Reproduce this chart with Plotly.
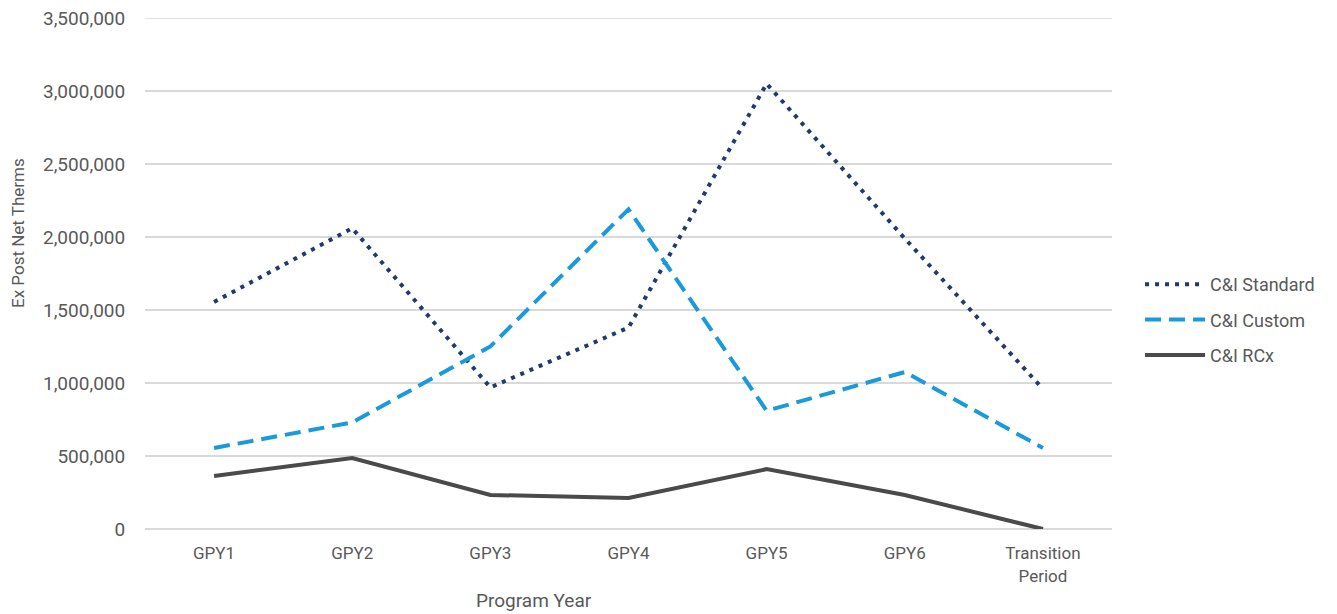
import plotly.graph_objects as go

categories = ["GPY1", "GPY2", "GPY3", "GPY4", "GPY5", "GPY6", "Transition<br>Period"]
standard = [1555000, 2060000, 970000, 1380000, 3050000, 1990000, 960000]
custom = [555000, 730000, 1250000, 2190000, 810000, 1075000, 555000]
rcx = [363000, 486000, 233000, 212000, 410000, 233000, 0]
tickvals = [0, 500000, 1000000, 1500000, 2000000, 2500000, 3000000, 3500000]
ticktext = ["0", "500,000", "1,000,000", "1,500,000", "2,000,000", "2,500,000", "3,000,000", "3,500,000"]

FONT = "Roboto, Open Sans, sans-serif"
GREY = "#595959"
GRID = "#D9D9D9"

fig = go.Figure()
fig.add_trace(go.Scatter(x=categories, y=standard, name="C&I Standard", mode="lines",
                         legendgroup="a",
                         line=dict(color="#1F3A6E", width=4, dash="4px,6px")))
fig.add_trace(go.Scatter(x=categories, y=custom, name="C&I Custom", mode="lines",
                         legendgroup="b",
                         line=dict(color="#1A9ADB", width=4, dash="16px,8px")))
fig.add_trace(go.Scatter(x=categories, y=rcx, name="C&I RCx", mode="lines",
                         legendgroup="c",
                         line=dict(color="#4A4A4A", width=4)))

fig.update_layout(
    width=1337, height=614,
    margin=dict(l=137, r=233, t=10, b=93),
    plot_bgcolor="white", paper_bgcolor="white",
    font=dict(family=FONT, size=17, color=GREY),
    legend=dict(x=1.029, y=0.409, xanchor="left", yanchor="middle",
                font=dict(size=18, color=GREY), tracegroupgap=9, itemwidth=60),
    xaxis=dict(range=[-0.5, 6.5], automargin=False,
               showgrid=False, showline=False, ticks="outside", ticklen=9,
               tickcolor="rgba(0,0,0,0)", tickfont=dict(size=17)),
    yaxis=dict(range=[0, 3500000], tickvals=tickvals, ticktext=ticktext, automargin=False,
               ticklabeloverflow="allow",
               showgrid=True, gridcolor=GRID, gridwidth=1.5, zeroline=True,
               zerolinecolor=GRID, zerolinewidth=1.5, tickfont=dict(size=19),
               ticklen=15, tickcolor="rgba(0,0,0,0)", ticks="outside"),
    shapes=[dict(type="line", xref="paper", x0=0, x1=1, yref="y",
                 y0=tickvals[-1], y1=tickvals[-1], layer="below",
                 line=dict(color=GRID, width=1.5))],
    annotations=[
        dict(text="Ex Post Net Therms", textangle=-90, xref="paper", yref="paper",
             x=-0.1315, y=0.579, xanchor="center", yanchor="middle", showarrow=False,
             font=dict(size=17, color=GREY)),
        dict(text="Program Year", xref="paper", yref="paper",
             x=0.4025, y=-0.139, xanchor="center", yanchor="middle", showarrow=False,
             font=dict(size=19, color=GREY)),
    ],
)
fig.write_html("out.html")
